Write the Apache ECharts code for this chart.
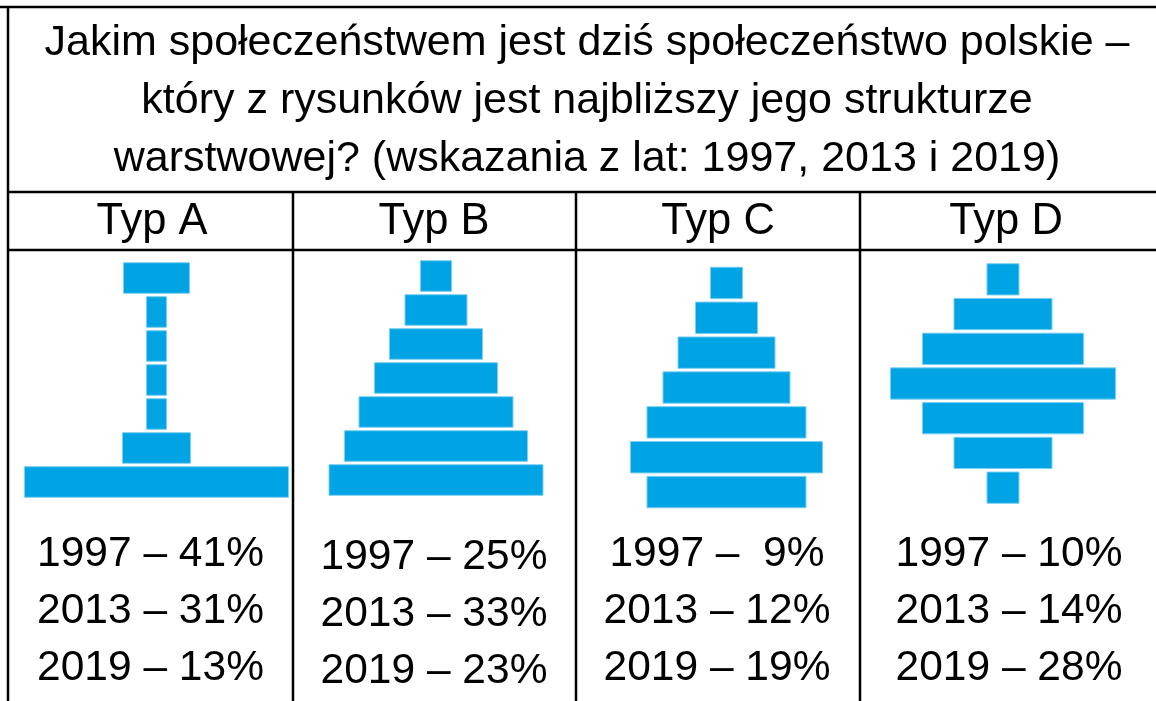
<!DOCTYPE html>
<html>
<head>
<meta charset="utf-8">
<script src="https://cdn.jsdelivr.net/npm/echarts@6/dist/echarts.min.js"></script>
<style>
html,body{margin:0;padding:0;background:#fff;}
#chart{width:1156px;height:701px;}
</style>
</head>
<body>
<div id="chart"></div>
<script>
// ---- data ----
const titleLines = [
  'Jakim społeczeństwem jest dziś społeczeństwo polskie –',
  'który z rysunków jest najbliższy jego strukturze',
  'warstwowej? (wskazania z lat: 1997, 2013 i 2019)'
];
const typeNames = ['Typ A', 'Typ B', 'Typ C', 'Typ D'];
const years = ['1997', '2013', '2019'];
const shareA = [41, 31, 13];
const shareB = [25, 33, 23];
const shareC = [9, 12, 19];
const shareD = [10, 14, 28];
// relative widths of the layers of each pictogram (top to bottom)
const levels = ['1', '2', '3', '4', '5', '6', '7'];
const pictA = [67, 21, 21, 21, 21, 69, 265];
const pictB = [32, 63, 94, 124, 155, 184, 215];
const pictC = [33, 63, 98, 128, 160, 193, 160];
const pictD = [33, 99, 162, 226, 162, 99, 33];

// ---- layout ----
const FONT = '"Liberation Sans", Arial, sans-serif';
const BAR = '#00a3e4';
const MAXW = 270;
const picts = [pictA, pictB, pictC, pictD];
const shares = [shareA, shareB, shareC, shareD];
const grids = [
  {left: 21.5, top: 261, width: MAXW, height: 238},
  {left: 301, top: 259, width: MAXW, height: 238},
  {left: 591.5, top: 265.5, width: MAXW, height: 244},
  {left: 868, top: 262, width: MAXW, height: 243}
];
const colCenters = [150.5, 434, 717, 1009];
const typeCenters = [152, 434, 718, 1006];
const shareY = [[554, 611, 668], [557, 614, 671], [554, 611, 668], [554, 611, 668]];

const xAxes = [], yAxes = [], series = [];
picts.forEach((p, i) => {
  xAxes.push({type: 'value', gridIndex: i, min: 0, max: MAXW, show: false});
  yAxes.push({type: 'category', gridIndex: i, data: levels, inverse: true, show: false});
  series.push({
    type: 'bar', xAxisIndex: i, yAxisIndex: i, stack: 's' + i, silent: true,
    itemStyle: {color: 'transparent'},
    data: p.map(w => (MAXW - w) / 2),
    barCategoryGap: '7%'
  });
  series.push({
    type: 'bar', xAxisIndex: i, yAxisIndex: i, stack: 's' + i,
    itemStyle: {color: BAR, borderColor: '#7cd0f2', borderWidth: 1},
    data: p,
    barCategoryGap: '7%'
  });
});

const graphics = [];
function line(x1, y1, x2, y2) {
  graphics.push({type: 'line', shape: {x1, y1, x2, y2}, style: {stroke: '#000', lineWidth: 2.5}, z: 10});
}
function text(t, x, y, size) {
  graphics.push({type: 'text', x, y, style: {text: t, fill: '#000', fontSize: size, fontFamily: FONT, align: 'center', verticalAlign: 'middle'}, z: 10});
}
// table lines
line(0, 7, 1156, 7);
line(8, 7, 8, 701);
line(8, 192, 1156, 192);
line(8, 250, 1156, 250);
[293, 576, 860].forEach(x => line(x, 192, x, 701));
// title
const titleY = [43, 101, 159];
titleLines.forEach((t, i) => text(t, 587, titleY[i], 43));
// type headers
typeNames.forEach((t, i) => text(t, typeCenters[i], 222, 43.5));
// shares
shares.forEach((s, i) => {
  s.forEach((v, j) => {
    const pct = (v < 10 ? '  ' : ' ') + v + '%';
    text(years[j] + ' –' + pct, colCenters[i], shareY[i][j], 42.5);
  });
});

const chart = echarts.init(document.getElementById('chart'));
chart.setOption({
  animation: false,
  backgroundColor: '#fff',
  grid: grids.map(g => Object.assign({containLabel: false}, g)),
  xAxis: xAxes,
  yAxis: yAxes,
  series: series,
  graphic: graphics
});
</script>
</body>
</html>
